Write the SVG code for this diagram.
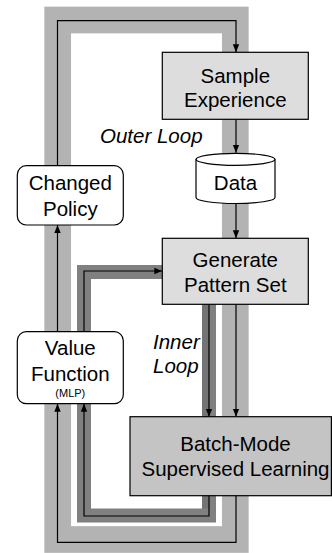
<svg xmlns="http://www.w3.org/2000/svg" width="332" height="553" viewBox="0 0 332 553">
  <style>
    .lbl { font-family: "Liberation Sans", Arial, sans-serif; font-size: 20.5px; fill: #000; text-anchor: middle; }
    .note { font-family: "Liberation Sans", Arial, sans-serif; font-size: 20.5px; font-style: italic; fill: #000; }
    .small { font-family: "Liberation Sans", Arial, sans-serif; font-size: 11px; fill: #000; text-anchor: middle; }
    .box { stroke: #000; stroke-width: 1.2; }
    .wire { fill: none; stroke: #000; stroke-width: 1.2; marker-end: url(#arrow); }
  </style>
  <defs>
    <marker id="arrow" markerUnits="userSpaceOnUse" markerWidth="8" markerHeight="8" viewBox="0 0 8 8" refX="8" refY="4" orient="auto">
      <path d="M0,0.8 L8,4 L0,7.2 Z" fill="#000"/>
    </marker>
  </defs>

  <rect width="332" height="553" fill="#fff"/>

  <g id="connectors">
    <!-- outer loop band -->
    <rect x="57.7" y="20" width="177.6" height="519.5" fill="none" stroke="#b3b3b3" stroke-width="26.7"/>
    <!-- inner loop band -->
    <rect x="84" y="272" width="125" height="243.5" fill="none" stroke="#808080" stroke-width="14"/>
    <rect x="202" y="304" width="7" height="204.5" fill="#747474"/>

    <!-- outer loop wires -->
    <path class="wire" d="M57.5,165.7 V20.7 H236 V52.3"/>
    <path class="wire" d="M236,119.3 V152.8"/>
    <path class="wire" d="M236,203.5 V238.3"/>
    <path class="wire" d="M57.5,331.7 V225"/>
    <path class="wire" d="M236,304.3 V416.7"/>
    <path class="wire" d="M236,495.7 V542.3 H57.5 V403.7"/>
    <!-- inner loop wires -->
    <path class="wire" d="M84,331.7 V271 H162.3"/>
    <path class="wire" d="M209,304.3 V416.7"/>
    <path class="wire" d="M209,495.7 V516 H84 V403.7"/>
  </g>

  <g id="sample-experience">
    <rect class="box" x="162.3" y="52.3" width="146" height="67" fill="#dddddd"/>
    <text class="lbl" x="235.3" y="82.5">Sample</text>
    <text class="lbl" x="235.3" y="106.5">Experience</text>
  </g>

  <g id="outer-loop-label">
    <text class="note" x="100" y="143.3">Outer Loop</text>
  </g>

  <g id="data">
    <path class="box" d="M196,159.3 A39.5,6 0 0 1 275,159.3 V197.5 A39.5,6 0 0 1 196,197.5 Z" fill="#fff"/>
    <path class="box" d="M196,159.3 A39.5,6 0 0 0 275,159.3" fill="none"/>
    <text class="lbl" x="235.5" y="189.5">Data</text>
  </g>

  <g id="changed-policy">
    <rect class="box" x="17.3" y="165.7" width="106" height="59.3" rx="9" fill="#fff"/>
    <text class="lbl" x="70.3" y="190">Changed</text>
    <text class="lbl" x="70.3" y="216">Policy</text>
  </g>

  <g id="generate-pattern-set">
    <rect class="box" x="162.3" y="238.3" width="146" height="66" fill="#dddddd"/>
    <text class="lbl" x="235.3" y="266.7">Generate</text>
    <text class="lbl" x="235.3" y="291.7">Pattern Set</text>
  </g>

  <g id="inner-loop-label">
    <text class="note" x="153" y="349">Inner</text>
    <text class="note" x="153" y="373">Loop</text>
  </g>

  <g id="value-function">
    <rect class="box" x="17.3" y="331.7" width="106" height="72" rx="9" fill="#fff"/>
    <text class="lbl" x="70.3" y="355">Value</text>
    <text class="lbl" x="70.3" y="380.7">Function</text>
    <text class="small" x="70.3" y="397.3">(MLP)</text>
  </g>

  <g id="batch-mode-learning">
    <rect class="box" x="130" y="416.7" width="201.4" height="79" fill="#c4c4c4"/>
    <text class="lbl" x="235.5" y="451">Batch-Mode</text>
    <text class="lbl" x="235.5" y="476">Supervised Learning</text>
  </g>
</svg>
